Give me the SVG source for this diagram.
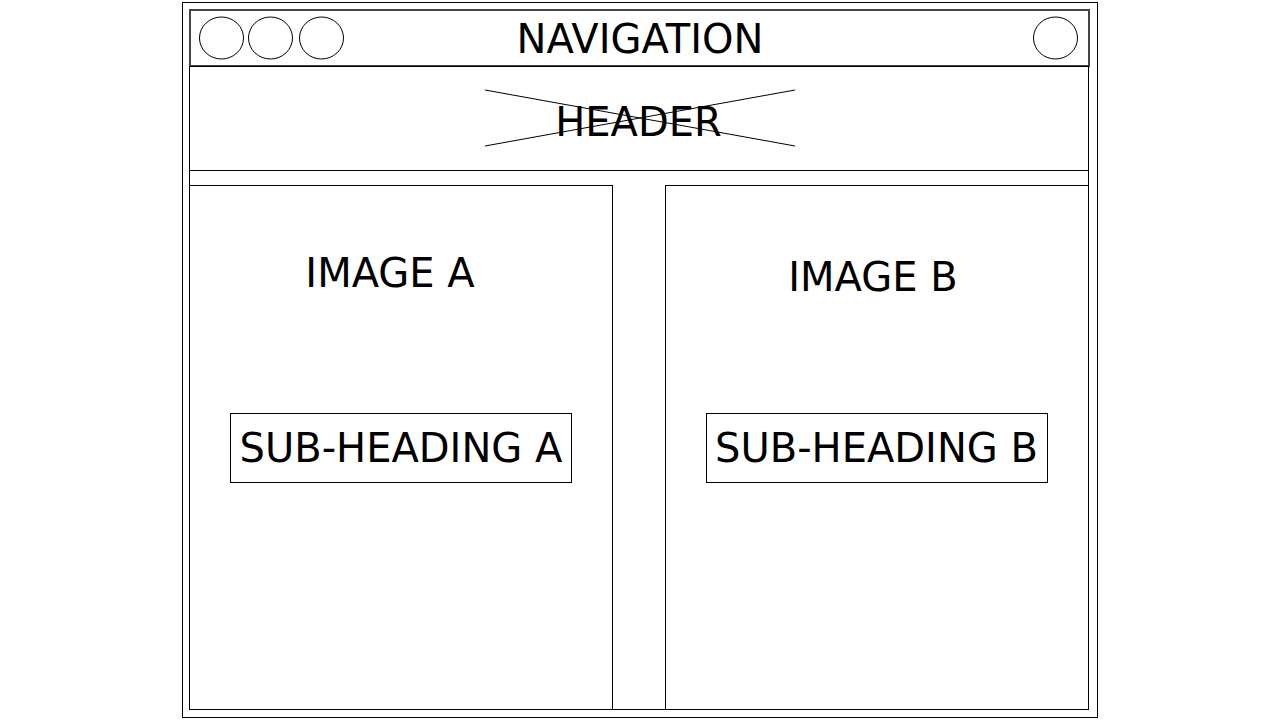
<svg xmlns="http://www.w3.org/2000/svg" width="1280" height="720" viewBox="0 0 1280 720">
<style>
.box{fill:#fff;stroke:#000;stroke-width:1}
.nav{fill:#fff;stroke:#444;stroke-width:2}
.btn{fill:#fff;stroke:#000;stroke-width:1}
.x{stroke:#000;stroke-width:1;fill:none}
.t{font-family:"DejaVu Sans",sans-serif;font-size:40px;fill:#000;text-anchor:middle}
</style>
<rect width="1280" height="720" fill="#fff"/>
<g id="frame"><rect class="box" x="182.5" y="2.5" width="915" height="715"/></g>
<g id="content"><rect class="box" x="189.5" y="66.5" width="899" height="643" stroke="#888"/></g>
<g id="navigation">
<rect class="nav" x="190" y="10" width="899" height="56"/>
<ellipse class="btn" cx="221.5" cy="38" rx="22" ry="21"/>
<ellipse class="btn" cx="270.5" cy="38" rx="22" ry="21"/>
<ellipse class="btn" cx="321.5" cy="38" rx="22" ry="21"/>
<ellipse class="btn" cx="1055.5" cy="38" rx="22" ry="21"/>
<text class="t" x="640" y="53">NAVIGATION</text>
</g>
<g id="header">
<rect class="box" x="189.5" y="66.5" width="899" height="104"/>
<text class="t" x="638.5" y="136">HEADER</text>
<line class="x" x1="485" y1="90" x2="795" y2="146"/>
<line class="x" x1="485" y1="146" x2="795" y2="90"/>
</g>
<g id="imageA">
<rect class="box" x="189.5" y="185.5" width="423" height="524"/>
<text class="t" x="390" y="287">IMAGE A</text>
</g>
<g id="subA">
<rect class="box" x="230.5" y="413.5" width="341" height="69"/>
<text class="t" x="401" y="462">SUB-HEADING A</text>
</g>
<g id="imageB">
<rect class="box" x="665.5" y="185.5" width="423" height="524"/>
<text class="t" x="873" y="291">IMAGE B</text>
</g>
<g id="subB">
<rect class="box" x="706.5" y="413.5" width="341" height="69"/>
<text class="t" x="876.5" y="462">SUB-HEADING B</text>
</g>
<g id="connectors"></g>
</svg>
